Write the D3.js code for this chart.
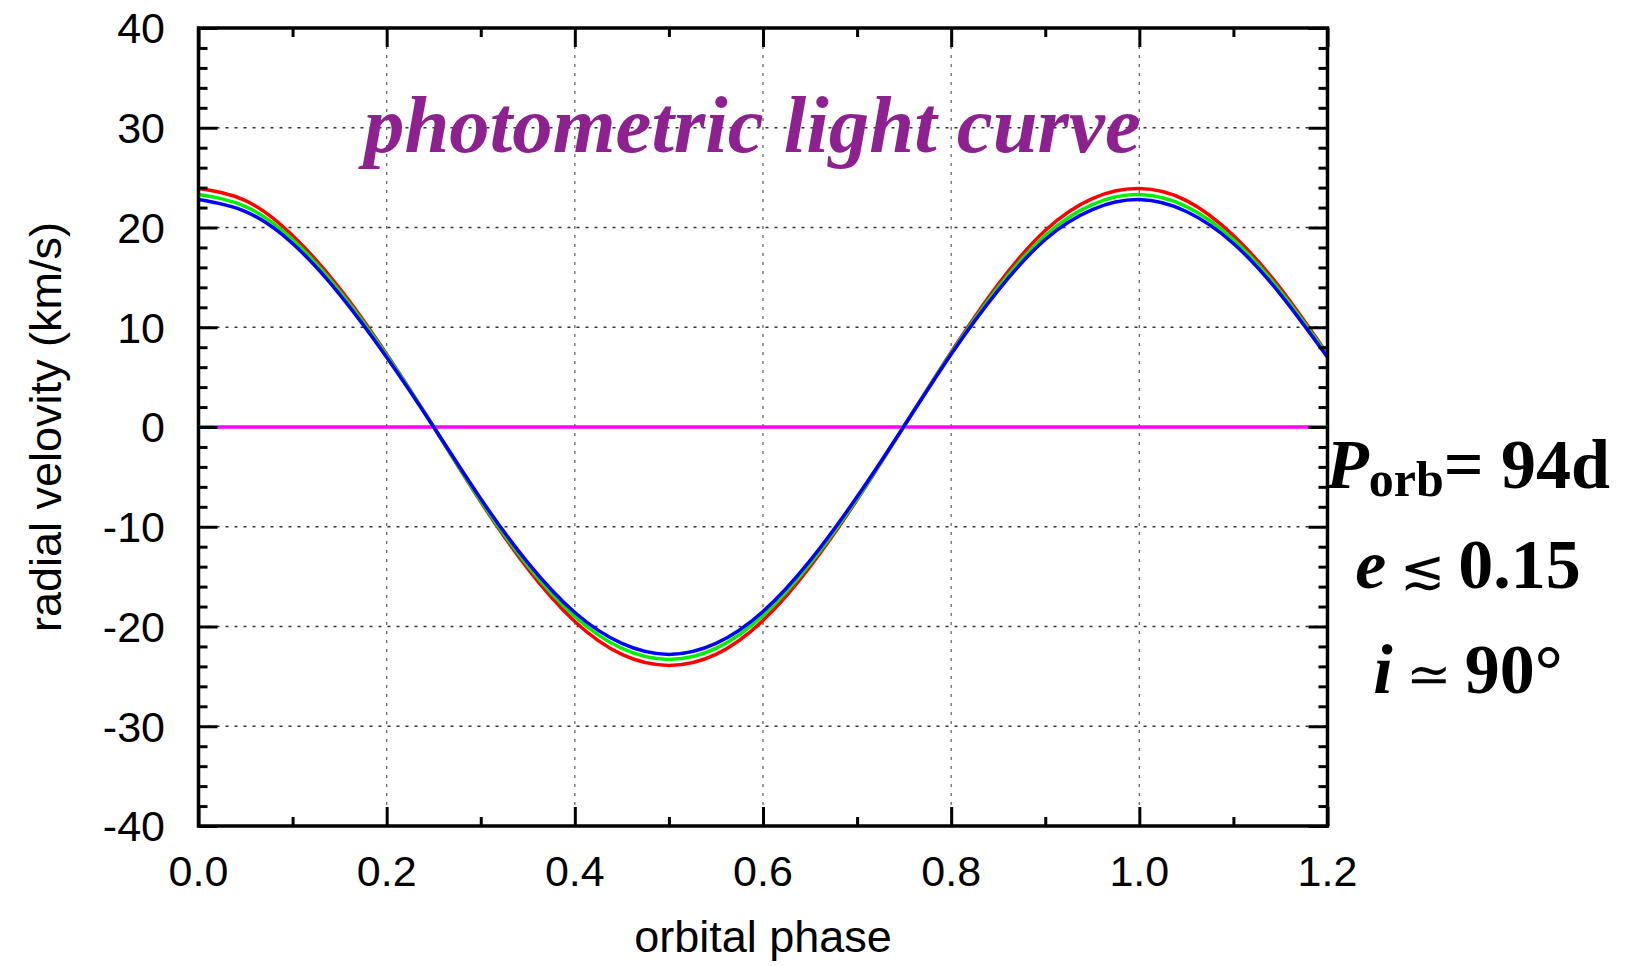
<!DOCTYPE html>
<html>
<head>
<meta charset="utf-8">
<script src="https://cdn.jsdelivr.net/npm/d3@7"></script>
<style>
  body { margin: 0; background: #fff; }
  svg { display: block; }
</style>
</head>
<body>
<div id="chart"></div>
<script>
// phases sampled every 0.05 along the curves
var phases = [0.00, 0.05, 0.10, 0.15, 0.20, 0.25, 0.30, 0.35, 0.40, 0.45, 0.50, 0.55,
  0.60, 0.65, 0.70, 0.75, 0.80, 0.85, 0.90, 0.95, 1.00, 1.05, 1.10, 1.15, 1.20];

// radial velocity curves (km/s)
var redVel = [23.9, 22.7, 19.2, 13.9, 7.3, 0.0, -7.5, -14.2, -19.5, -22.8, -23.9, -22.8,
  -19.4, -14.0, -7.3, 0.1, 7.5, 14.3, 19.7, 22.9, 23.9, 22.7, 19.2, 13.9, 7.3];
var greenVel = [23.3, 22.1, 18.8, 13.6, 7.2, 0.0, -7.4, -13.9, -19.0, -22.2, -23.3, -22.2,
  -18.9, -13.7, -7.2, 0.1, 7.4, 14.0, 19.2, 22.3, 23.3, 22.1, 18.8, 13.6, 7.2];
var blueVel = [22.8, 21.6, 18.4, 13.3, 7.0, 0.0, -7.2, -13.6, -18.6, -21.7, -22.8, -21.7,
  -18.5, -13.4, -7.0, 0.1, 7.3, 13.7, 18.8, 21.8, 22.8, 21.6, 18.4, 13.3, 7.0];

var series = [
  { name: 'red', values: redVel, color: '#ff0000' },
  { name: 'green', values: greenVel, color: '#00ee00' },
  { name: 'blue', values: blueVel, color: '#0000ff' }
];

var xTicks = [0, 0.2, 0.4, 0.6, 0.8, 1.0, 1.2];
var xMinor = [0.1, 0.3, 0.5, 0.7, 0.9, 1.1];
var yTicks = [-40, -30, -20, -10, 0, 10, 20, 30, 40];
var yMinor = d3.range(-38, 40, 2).filter(function (v) { return v % 10 !== 0; });

var width = 1639;
var height = 966;
var plot = { left: 198.5, right: 1327.5, top: 28, bottom: 826 };

var x = d3.scaleLinear().domain([0, 1.2]).range([plot.left, plot.right]);
var y = d3.scaleLinear().domain([-40, 40]).range([plot.bottom, plot.top]);

var svg = d3.select('#chart').append('svg')
  .attr('width', width)
  .attr('height', height);

// dotted grid at the major ticks
var grid = svg.append('g')
  .attr('stroke', '#333')
  .attr('stroke-width', 1.3)
  .attr('stroke-dasharray', '3,6');

grid.selectAll('.vg')
  .data(xTicks.slice(1, -1))
  .enter().append('line')
  .attr('x1', function (d) { return x(d); })
  .attr('x2', function (d) { return x(d); })
  .attr('y1', plot.top)
  .attr('y2', plot.bottom)
  .attr('stroke', '#666');

grid.selectAll('.hg')
  .data(yTicks.slice(1, -1))
  .enter().append('line')
  .attr('x1', plot.left)
  .attr('x2', plot.right)
  .attr('y1', function (d) { return y(d); })
  .attr('y2', function (d) { return y(d); });

// zero line
svg.append('line')
  .attr('x1', x(0))
  .attr('x2', x(1.2))
  .attr('y1', y(0))
  .attr('y2', y(0))
  .attr('stroke', '#ff00ff')
  .attr('stroke-width', 3.5);

// velocity curves
var line = d3.line()
  .x(function (d, i) { return x(phases[i]); })
  .y(function (d) { return y(d); })
  .curve(d3.curveNatural);

svg.selectAll('.curve')
  .data(series)
  .enter().append('path')
  .attr('class', 'curve')
  .attr('d', function (d) { return line(d.values); })
  .attr('fill', 'none')
  .attr('stroke', function (d) { return d.color; })
  .attr('stroke-width', 3.5);

// axes: ticks point inward on all four sides
var majorLen = 19;
var minorLen = 9;

var bottomAxis = d3.axisBottom(x).tickValues(xTicks).tickSize(-majorLen).tickFormat('');
var bottomMinor = d3.axisBottom(x).tickValues(xMinor).tickSize(-minorLen).tickFormat('');
var topAxis = d3.axisTop(x).tickValues(xTicks).tickSize(-majorLen).tickFormat('');
var topMinor = d3.axisTop(x).tickValues(xMinor).tickSize(-minorLen).tickFormat('');
var leftAxis = d3.axisLeft(y).tickValues(yTicks).tickSize(-majorLen).tickFormat('');
var leftMinor = d3.axisLeft(y).tickValues(yMinor).tickSize(-minorLen).tickFormat('');
var rightAxis = d3.axisRight(y).tickValues(yTicks).tickSize(-majorLen).tickFormat('');
var rightMinor = d3.axisRight(y).tickValues(yMinor).tickSize(-minorLen).tickFormat('');

function drawAxis(axis, tx, ty) {
  var g = svg.append('g')
    .attr('transform', 'translate(' + tx + ',' + ty + ')')
    .call(axis);
  g.select('.domain').remove();
  g.selectAll('.tick line').attr('stroke', '#000').attr('stroke-width', 3);
  return g;
}

drawAxis(bottomAxis, 0, plot.bottom);
drawAxis(bottomMinor, 0, plot.bottom);
drawAxis(topAxis, 0, plot.top);
drawAxis(topMinor, 0, plot.top);
drawAxis(leftAxis, plot.left, 0);
drawAxis(leftMinor, plot.left, 0);
drawAxis(rightAxis, plot.right, 0);
drawAxis(rightMinor, plot.right, 0);

// frame
svg.append('rect')
  .attr('x', plot.left)
  .attr('y', plot.top)
  .attr('width', plot.right - plot.left)
  .attr('height', plot.bottom - plot.top)
  .attr('fill', 'none')
  .attr('stroke', '#000')
  .attr('stroke-width', 3.5);

// tick labels
var labelFont = '"Liberation Sans", Arial, Helvetica, sans-serif';

svg.selectAll('.xl')
  .data(xTicks)
  .enter().append('text')
  .attr('x', function (d) { return x(d); })
  .attr('y', 886)
  .attr('text-anchor', 'middle')
  .style('font-family', labelFont)
  .style('font-size', '43px')
  .text(function (d) { return d3.format('.1f')(d); });

svg.selectAll('.yl')
  .data(yTicks)
  .enter().append('text')
  .attr('x', 165)
  .attr('y', function (d) { return y(d); })
  .attr('dy', '0.36em')
  .attr('text-anchor', 'end')
  .style('font-family', labelFont)
  .style('font-size', '43px')
  .text(function (d) { return d; });

// axis titles
svg.append('text')
  .attr('x', (plot.left + plot.right) / 2)
  .attr('y', 952)
  .attr('text-anchor', 'middle')
  .style('font-family', labelFont)
  .style('font-size', '45px')
  .text('orbital phase');

svg.append('text')
  .attr('transform', 'translate(61,' + ((plot.top + plot.bottom) / 2) + ') rotate(-90)')
  .attr('text-anchor', 'middle')
  .style('font-family', labelFont)
  .style('font-size', '45px')
  .text('radial velovity (km/s)');

// title inside the plot
var title = svg.append('text')
  .attr('x', 364)
  .attr('y', 152)
  .attr('fill', '#8e2190')
  .style('font-family', '"Liberation Serif", "Times New Roman", serif')
  .style('font-style', 'italic')
  .style('font-weight', 'bold')
  .style('font-size', '80px')
  .text('photometric light curve');

// fit the title to the width it has in the original
var tl = title.node().getComputedTextLength();
title.style('font-size', (80 * 777 / tl) + 'px');

// orbit parameters on the right
var serif = '"Liberation Serif", "DejaVu Serif", serif';
var cx = 1468;

function paramText(yPos) {
  return svg.append('text')
    .attr('x', cx)
    .attr('y', yPos)
    .attr('text-anchor', 'middle')
    .style('font-family', serif)
    .style('font-weight', 'bold')
    .style('font-size', '70px');
}

var p1 = paramText(488);
p1.append('tspan').style('font-style', 'italic').text('P');
p1.append('tspan').attr('dy', 8).style('font-size', '50px').text('orb');
p1.append('tspan').attr('dy', -8).text('= 94d');

var p2 = paramText(588);
p2.append('tspan').style('font-style', 'italic').text('e');
p2.append('tspan').style('font-weight', 'normal').style('font-size', '54px').text(' \u2272 ');
p2.append('tspan').text('0.15');

var p3 = paramText(693);
p3.append('tspan').style('font-style', 'italic').text('i');
p3.append('tspan').style('font-weight', 'normal').style('font-size', '54px').text(' \u2243 ');
p3.append('tspan').text('90\u00b0');
</script>
</body>
</html>
